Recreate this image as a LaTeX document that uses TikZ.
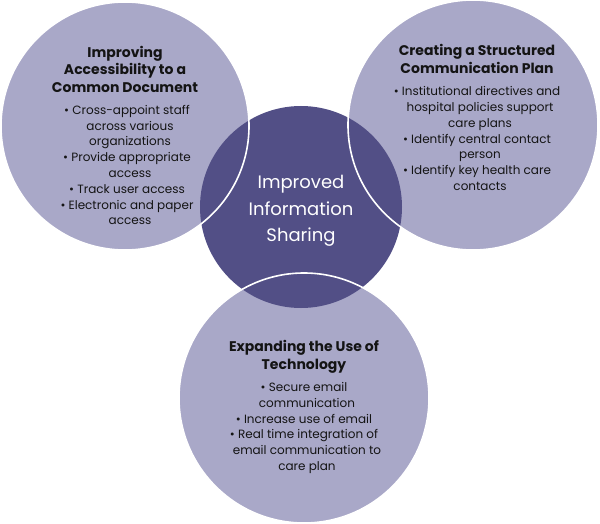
\documentclass[tikz,border=0pt]{standalone}
\usepackage{fontspec}
\setmainfont{Poppins}
\definecolor{lightv}{HTML}{A9A8C8}
\definecolor{darkv}{HTML}{524F86}
\definecolor{txt}{HTML}{141414}
\begin{document}
\begin{tikzpicture}[x=1pt,y=-1pt,
  ttl/.style={align=center,text=txt,font=\fontsize{14}{17.5}\selectfont\bfseries,inner sep=0pt},
  blt/.style={align=center,text=txt,font=\fontsize{12}{15.8}\selectfont,inner sep=0pt},
  ring/.style={draw=white,line width=1.6pt}]
\useasboundingbox (0,0) rectangle (600,524);
% circle fills
\fill[lightv] (125,126) circle[radius=124pt];
\fill[lightv] (473,125) circle[radius=125pt];
\fill[lightv] (304,398) circle[radius=125pt];
\fill[darkv] (301,207) circle[radius=101pt];
% white outlines of the light circles
\draw[ring] (125,126) circle[radius=124pt];
\draw[ring] (473,125) circle[radius=125pt];
\draw[ring] (304,398) circle[radius=125pt];
% texts
\node[ttl] (t1) at (125,69) {Improving\\Accessibility to a\\Common Document};
\node[blt] (b1) at (127,165) {• Cross-appoint staff\\\hspace*{0.5em}across various\\\hspace*{0.5em}organizations\\• Provide appropriate\\\hspace*{0.5em}access\\• Track user access\\• Electronic and paper\\\hspace*{0.5em}access};
\node[ttl] (t2) at (477,59) {Creating a Structured\\Communication Plan};
\node[blt] (b2) at (477,138.5) {• Institutional directives and\\\hspace*{0.5em}hospital policies support\\\hspace*{0.5em}care plans\\• Identify central contact\\\hspace*{0.5em}person\\• Identify key health care\\\hspace*{0.5em}contacts};
\node[align=center,text=white,font=\fontsize{18}{26.5}\selectfont,inner sep=0pt] (c) at (301,211) {Improved\\Information\\Sharing};
\node[ttl] (t3) at (304,357) {Expanding the Use of\\Technology};
\node[blt] (b3) at (304,428) {• Secure email\\\hspace*{0.5em}communication\\• Increase use of email\\• Real time integration of\\\hspace*{0.5em}email communication to\\\hspace*{0.5em}care plan};
\end{tikzpicture}
\end{document}
